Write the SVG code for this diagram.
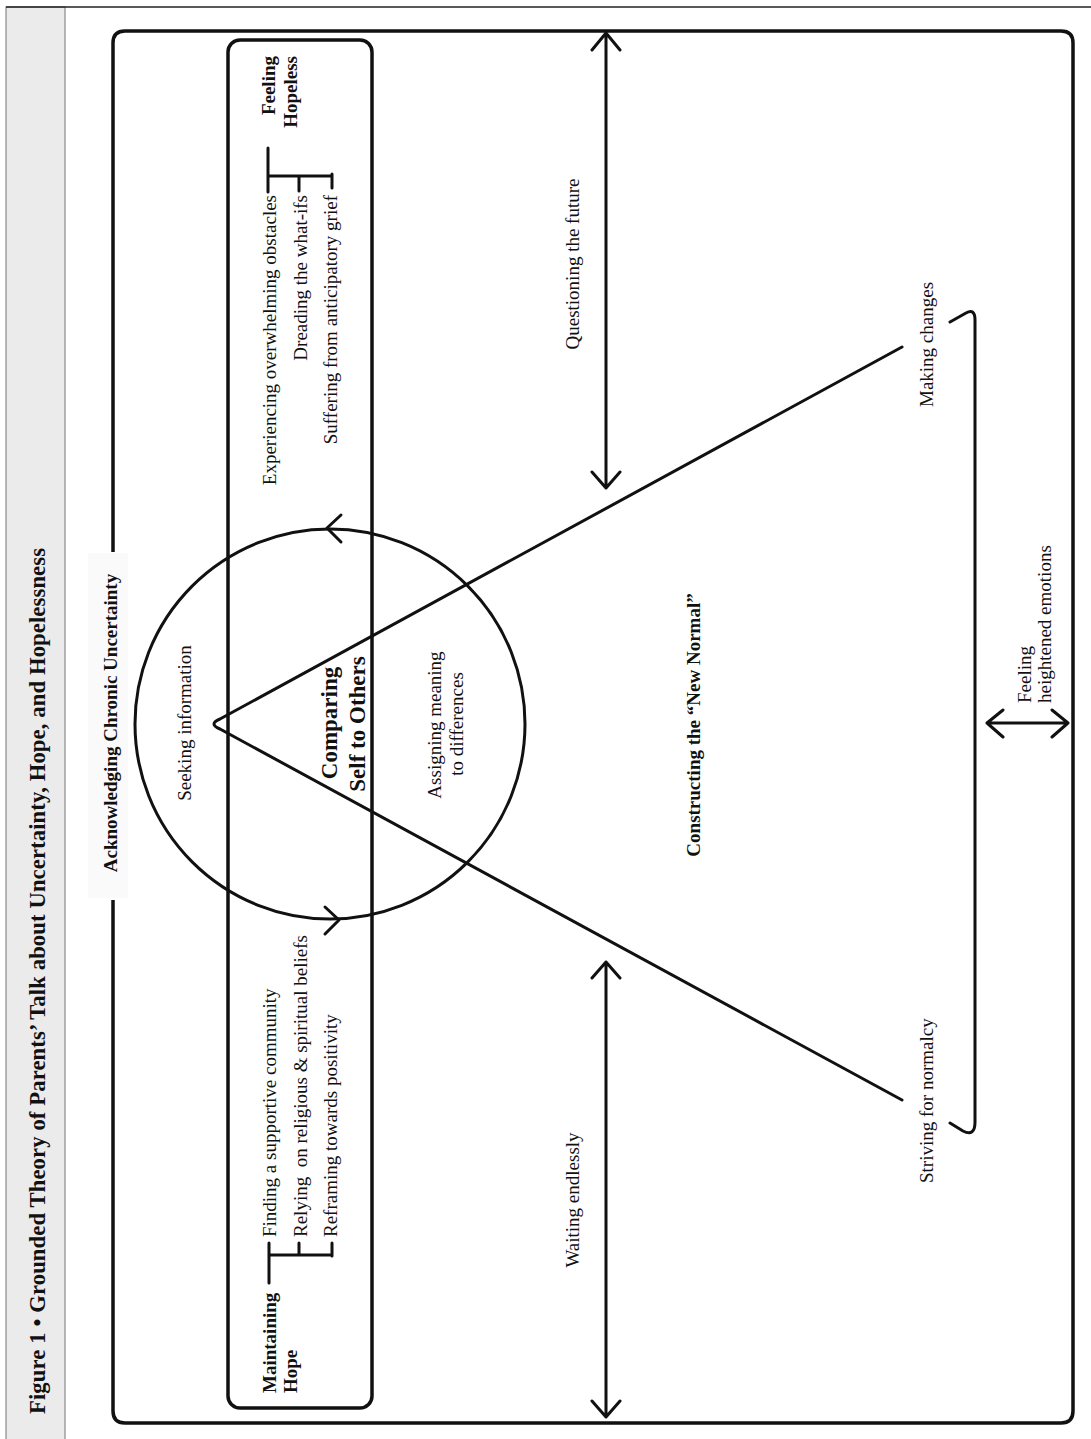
<svg xmlns="http://www.w3.org/2000/svg" width="1091" height="1439" viewBox="0 0 1091 1439">
<style>
.t{font-family:"Liberation Serif","Times New Roman",serif;font-size:19px;fill:#111}
.b{font-weight:bold}
.big{font-size:23px}
.ttl{font-size:22.6px}
.ln{fill:none;stroke:#111;stroke-width:3;stroke-linecap:round;stroke-linejoin:round}
.bx{fill:none;stroke:#111;stroke-width:3.5}
</style>
<rect width="1091" height="1439" fill="#fff"/>
<g id="frame">
<rect x="6" y="7" width="59" height="1440" fill="#ebebeb" stroke="#8a8a8a" stroke-width="1.2"/>
<line x1="6" y1="7" x2="1091" y2="7" stroke="#222" stroke-width="1.5"/>
<text class="t b ttl" textLength="866" lengthAdjust="spacing" transform="translate(45,1414) rotate(-90)">Figure 1 • Grounded Theory of Parents’ Talk about Uncertainty, Hope, and Hopelessness</text>
</g>
<g id="acknowledging">
<path class="bx" d="M113,900 L113,1411 Q113,1423 125,1423 L1061,1423 Q1073,1423 1073,1411 L1073,43 Q1073,31 1061,31 L125,31 Q113,31 113,43 L113,552"/>
<rect x="88" y="553" width="40" height="345" fill="#fafafa"/>
<text class="t b" text-anchor="middle" transform="translate(117,723) rotate(-90)">Acknowledging Chronic Uncertainty</text>
</g>
<g id="band">
<rect class="bx" x="228" y="40" width="144" height="1368" rx="12" ry="12"/>
</g>
<g id="feeling-hopeless">
<text class="t b" text-anchor="end" transform="translate(275,56) rotate(-90)">Feeling</text>
<text class="t b" text-anchor="end" transform="translate(297,56) rotate(-90)">Hopeless</text>
<text class="t" text-anchor="end" transform="translate(276,195) rotate(-90)">Experiencing overwhelming obstacles</text>
<text class="t" text-anchor="end" transform="translate(307,195) rotate(-90)">Dreading the what-ifs</text>
<text class="t" text-anchor="end" transform="translate(337,195) rotate(-90)">Suffering from anticipatory grief</text>
<path class="ln" stroke-linecap="butt" d="M268,148 L268,192 M268,176 L332,176 M299,176 L299,191 M332,174 L332,188"/>
</g>
<g id="maintaining-hope">
<text class="t b" transform="translate(276,1393) rotate(-90)">Maintaining</text>
<text class="t b" transform="translate(297,1393) rotate(-90)">Hope</text>
<text class="t" transform="translate(276,1237) rotate(-90)">Finding a supportive community</text>
<text class="t" xml:space="preserve" transform="translate(307,1237) rotate(-90)">Relying  on religious &amp; spiritual beliefs</text>
<text class="t" transform="translate(337,1237) rotate(-90)">Reframing towards positivity</text>
<path class="ln" stroke-linecap="butt" d="M269,1283 L269,1243 M269,1255 L332,1255 M299,1255 L299,1243 M332,1256 L332,1243"/>
</g>
<g id="comparing">
<circle class="ln" cx="330" cy="724" r="195"/>
<text class="t" text-anchor="middle" transform="translate(191,723) rotate(-90)">Seeking information</text>
<text class="t b big" text-anchor="middle" transform="translate(337,723) rotate(-90)">Comparing</text>
<text class="t b big" text-anchor="middle" transform="translate(365,724) rotate(-90)">Self to Others</text>
<text class="t" text-anchor="middle" transform="translate(441,725) rotate(-90)">Assigning meaning</text>
<text class="t" text-anchor="middle" transform="translate(463,724) rotate(-90)">to differences</text>
</g>
<g id="new-normal">
<text class="t b" text-anchor="middle" transform="translate(700,725) rotate(-90)">Constructing the “New Normal”</text>
<text class="t" transform="translate(933,407) rotate(-90)">Making changes</text>
<text class="t" transform="translate(933,1183) rotate(-90)">Striving for normalcy</text>
</g>
<g id="uncertainty-labels">
<text class="t" text-anchor="middle" transform="translate(579,264) rotate(-90)">Questioning the future</text>
<text class="t" text-anchor="middle" transform="translate(579,1200) rotate(-90)">Waiting endlessly</text>
<text class="t" transform="translate(1031,703) rotate(-90)">Feeling</text>
<text class="t" transform="translate(1051,703) rotate(-90)">heightened emotions</text>
</g>
<g id="connectors">
<path class="ln" d="M327,528 L341,515 M327,528 L341,542"/>
<path class="ln" d="M339,920 L325,907 M339,920 L325,934"/>
<path class="ln" d="M902,347 L220,719 Q208,724 220,729 L902,1100"/>
<path class="ln" d="M950,322 L966,313 Q975,308 975,320 L975,1122 Q975,1137 963,1131 L950,1123"/>
<path class="ln" d="M606,33 L606,488 M592,50 L606,33 L620,50 M592,472 L606,488 L620,472"/>
<path class="ln" d="M606,962 L606,1417 M592,978 L606,962 L620,978 M592,1401 L606,1417 L620,1401"/>
<path class="ln" d="M987,723 L1068,723 M1003,710 L987,723 L1003,737 M1052,710 L1068,723 L1052,737"/>
</g>
</svg>
